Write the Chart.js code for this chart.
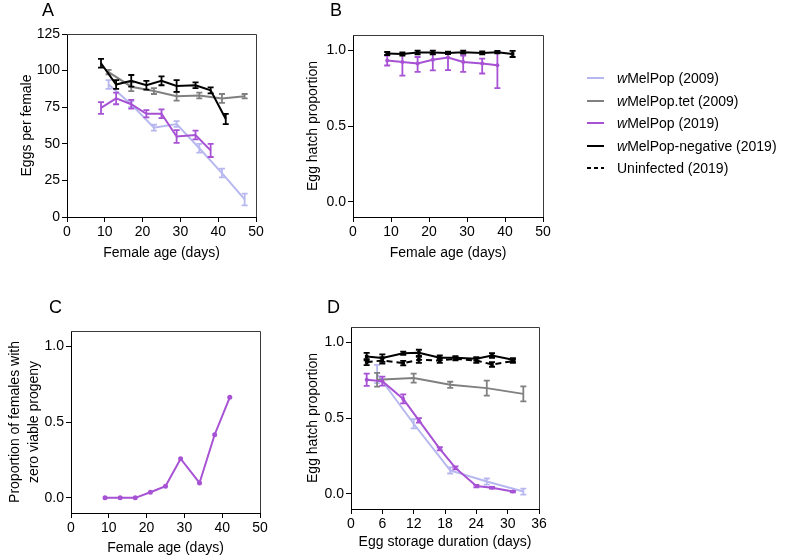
<!DOCTYPE html>
<html><head><meta charset="utf-8">
<script src="https://cdn.jsdelivr.net/npm/chart.js@4.4.1/dist/chart.umd.min.js"></script>
<style>
html,body{margin:0;padding:0;background:#fff;}
#wrap{position:relative;width:786px;height:558px;overflow:hidden;font-family:"Liberation Sans",Arial,sans-serif;color:#000;}
canvas{position:absolute;left:0;top:0;}
.lab{position:absolute;font-size:18px;line-height:18px;}
.legtxt{position:absolute;left:617px;font-size:14px;line-height:16px;white-space:nowrap;}
.legln{position:absolute;left:587px;width:17px;height:2px;}
</style></head>
<body>
<div id="wrap">
<canvas id="cA" width="786" height="558"></canvas>
<canvas id="cB" width="786" height="558"></canvas>
<canvas id="cC" width="786" height="558"></canvas>
<canvas id="cD" width="786" height="558"></canvas>
<div class="lab" style="left:42px;top:1px">A</div>
<div class="lab" style="left:330px;top:1px">B</div>
<div class="lab" style="left:49px;top:298px">C</div>
<div class="lab" style="left:327px;top:298px">D</div>
<div id="legend"></div>
</div>
<script>
// ---------- data ----------
// Panel A: eggs per female vs female age
const ageA_2019 = [9, 13, 17, 21, 25, 29, 34, 38, 42];
const eggsA_neg = [105, 90.5, 93, 90, 93, 89.5, 90, 86.5, 67];
const errA_neg = [3, 3, 4, 3, 3, 4, 2, 2, 3.5];
const ageA_wmp19 = [9, 13, 17, 21, 25, 29, 34, 38];
const eggsA_wmp19 = [74.5, 81, 77, 70.5, 70.5, 55, 56, 45.5];
const errA_wmp19 = [4, 4, 3, 2.5, 3, 4.3, 3, 4.5];
const ageA_2009 = [11, 17, 23, 29, 35, 41, 47];
const eggsA_tet = [99, 89, 86, 82.5, 83, 81, 82.5];
const errA_tet = [1.5, 3, 2, 3, 2, 3, 1.5];
const eggsA_wmp09 = [90.5, 77, 61, 63.5, 47, 30, 12];
const errA_wmp09 = [3, 2, 2, 2, 3, 3, 4];

// Panel B: egg hatch proportion vs female age
const ageB_neg = [9, 13, 17, 21, 25, 29, 34, 38, 42];
const hatchB_neg = [0.978, 0.975, 0.985, 0.985, 0.982, 0.987, 0.982, 0.987, 0.975];
const errB_neg = [0.01, 0.01, 0.012, 0.012, 0.008, 0.01, 0.01, 0.008, 0.02];
const ageB_wmp19 = [9, 13, 17, 21, 25, 29, 34, 38];
const hatchB_wmp19 = [0.932, 0.922, 0.912, 0.937, 0.952, 0.922, 0.912, 0.90];
const errLoB_wmp19 = [0.033, 0.09, 0.055, 0.07, 0.083, 0.065, 0.066, 0.15];
const errHiB_wmp19 = [0.033, 0.05, 0.043, 0.04, 0.026, 0.043, 0.032, 0.09];

// Panel C: proportion of females with zero viable progeny
const ageC = [9, 13, 17, 21, 25, 29, 34, 38, 42];
const propC = [0, 0, 0, 0.037, 0.077, 0.258, 0.098, 0.416, 0.663];

// Panel D: egg hatch proportion vs egg storage duration
const dayD_2019 = [3, 6, 10, 13, 17, 20, 24, 27, 31];
const hatchD_neg = [0.905, 0.895, 0.927, 0.93, 0.897, 0.897, 0.89, 0.912, 0.884];
const errD_neg = [0.025, 0.025, 0.01, 0.02, 0.015, 0.01, 0.012, 0.015, 0.01];
const hatchD_uninf = [0.868, 0.879, 0.862, 0.884, 0.879, 0.89, 0.879, 0.853, 0.875];
const errD_uninf = [0.02, 0.02, 0.015, 0.02, 0.015, 0.01, 0.015, 0.015, 0.012];
const hatchD_wmp19 = [0.752, 0.743, 0.626, 0.484, 0.297, 0.171, 0.051, 0.04, 0.015];
const errD_wmp19 = [0.04, 0.03, 0.03, 0.015, 0.01, 0.01, 0.008, 0.005, 0.005];
const dayD_2009 = [5, 12, 19, 26, 33];
const hatchD_tet = [0.752, 0.763, 0.719, 0.697, 0.659];
const errD_tet = [0.045, 0.03, 0.02, 0.05, 0.05];
const hatchD_wmp09 = [0.79, 0.462, 0.154, 0.081, 0.015];
const errD_wmp09 = [0.06, 0.03, 0.02, 0.02, 0.02];

const legendLabels = ['<i>w</i>MelPop (2009)', '<i>w</i>MelPop.tet (2009)', '<i>w</i>MelPop (2019)', '<i>w</i>MelPop-negative (2019)', 'Uninfected (2019)'];

// ---------- styles ----------
const C_WMP09 = '#b8b8f0', C_TET = '#808080', C_WMP19 = '#a752d4', C_NEG = '#000000';
const legendColors = [C_WMP09, C_TET, C_WMP19, C_NEG, 'dash'];

Chart.defaults.font.family = "'Liberation Sans', Arial, sans-serif";
Chart.defaults.font.size = 14;
Chart.defaults.color = '#000';
Chart.defaults.animation = false;

const pts = (xs, ys) => xs.map((x, i) => ({ x: x, y: ys[i] }));

const errorBars = {
  id: 'errorBars',
  afterDatasetDraw(chart, args) {
    const ds = chart.data.datasets[args.index];
    if (!ds.errLo) return;
    const ys = chart.scales.y, ctx = chart.ctx;
    ctx.save();
    ctx.strokeStyle = ds.borderColor;
    ctx.lineWidth = 1.8;
    ctx.setLineDash([]);
    args.meta.data.forEach((p, i) => {
      const lo = ds.errLo[i], hi = ds.errHi[i];
      if (!lo && !hi) return;
      const v = ds.data[i].y;
      const y1 = ys.getPixelForValue(v + hi), y2 = ys.getPixelForValue(v - lo);
      const cw = 3;
      ctx.beginPath();
      ctx.moveTo(p.x, y1); ctx.lineTo(p.x, y2);
      ctx.moveTo(p.x - cw, y1); ctx.lineTo(p.x + cw, y1);
      ctx.moveTo(p.x - cw, y2); ctx.lineTo(p.x + cw, y2);
      ctx.stroke();
    });
    ctx.restore();
  }
};

const frame = {
  id: 'frame',
  afterDraw(chart) {
    const a = chart.chartArea, ctx = chart.ctx;
    ctx.save();
    ctx.strokeStyle = '#3a3a3a';
    ctx.lineWidth = 1;
    ctx.beginPath();
    ctx.moveTo(Math.round(a.left), Math.round(a.top) + 0.5);
    ctx.lineTo(Math.round(a.right) + 0.5, Math.round(a.top) + 0.5);
    ctx.lineTo(Math.round(a.right) + 0.5, Math.round(a.bottom));
    ctx.stroke();
    ctx.restore();
  }
};

function ds(xs, ys, color, o) {
  o = o || {};
  const d = {
    data: pts(xs, ys), borderColor: color, backgroundColor: color,
    borderWidth: 2, pointRadius: o.r || 0, pointStyle: o.style || 'circle',
    pointBorderWidth: 0, tension: 0, order: o.order || 0,
    borderDash: o.dash || []
  };
  if (o.lo) { d.errLo = o.lo; d.errHi = o.hi || o.lo; }
  return d;
}

function panel(id, area, xCfg, yCfg, datasets, xTitle, xTitleCenter, yTitle, yTitleCenter, yLineH) {
  const YW = 66, XH = 45;
  const lh = yLineH || 1.2;
  const yPad = yTitleCenter - (area.L - YW) - 14 * lh / 2;
  const xPad = (area.B + XH) - xTitleCenter - 14 * 1.2 / 2;
  const tickGrid = { display: true, drawOnChartArea: false, drawTicks: true, tickLength: 5, color: '#000', lineWidth: 1 };
  new Chart(document.getElementById(id), {
    type: 'line',
    data: { datasets: datasets },
    options: {
      responsive: false, animation: false,
      layout: { padding: { left: area.L - YW, top: area.T, right: 786 - area.R, bottom: 558 - area.B - XH } },
      plugins: { legend: { display: false }, tooltip: { enabled: false } },
      scales: {
        x: Object.assign({
          type: 'linear', position: 'bottom',
          grid: tickGrid, border: { display: true, color: '#000', width: 1 },
          ticks: { padding: 2, maxRotation: 0, font: { size: 14 } },
          title: { display: true, text: xTitle, font: { size: 14 }, padding: { top: 0, bottom: xPad } },
          afterFit: s => { s.height = XH; }
        }, xCfg),
        y: Object.assign({
          type: 'linear', position: 'left',
          grid: tickGrid, border: { display: true, color: '#000', width: 1 },
          title: { display: true, text: yTitle, font: { size: 14, lineHeight: lh }, padding: { top: yPad, bottom: 0 } },
          afterFit: s => { s.width = YW; }
        }, yCfg)
      }
    },
    plugins: [errorBars, frame]
  });
}

const propY = {
  min: -0.1, max: 1.1,
  afterBuildTicks: s => { s.ticks = [0, 0.5, 1].map(v => ({ value: v })); },
  ticks: { padding: 2, font: { size: 14 }, callback: v => Number(v).toFixed(1) }
};
const ageX = { min: 0, max: 50, ticks: { stepSize: 10, padding: 2, maxRotation: 0, font: { size: 14 } } };

// Panel A
panel('cA', { L: 67, T: 34, R: 256, B: 217 }, ageX,
  { min: 0, max: 125, ticks: { stepSize: 25, padding: 2, font: { size: 14 } } },
  [
    ds(ageA_2019, eggsA_neg, C_NEG, { lo: errA_neg, order: 1 }),
    ds(ageA_wmp19, eggsA_wmp19, C_WMP19, { lo: errA_wmp19, order: 2 }),
    ds(ageA_2009, eggsA_tet, C_TET, { lo: errA_tet, order: 3 }),
    ds(ageA_2009, eggsA_wmp09, C_WMP09, { lo: errA_wmp09, order: 4 })
  ], 'Female age (days)', 253, 'Eggs per female', 27);

// Panel B
panel('cB', { L: 353, T: 35, R: 543, B: 217 }, ageX, propY,
  [
    ds(ageB_neg, hatchB_neg, C_NEG, { lo: errB_neg, r: 2.5, style: 'rect', order: 1 }),
    ds(ageB_wmp19, hatchB_wmp19, C_WMP19, { lo: errLoB_wmp19, hi: errHiB_wmp19, r: 2, order: 2 })
  ], 'Female age (days)', 253, 'Egg hatch proportion', 313);

// Panel C
panel('cC', { L: 71, T: 331, R: 260, B: 513 }, ageX, propY,
  [ ds(ageC, propC, C_WMP19, { r: 2.5 }) ],
  'Female age (days)', 548, ['Proportion of females with', 'zero viable progeny'], 15, 1.4);

// Panel D
panel('cD', { L: 351, T: 327, R: 539, B: 509 },
  { min: 0, max: 36, ticks: { stepSize: 6, padding: 2, maxRotation: 0, font: { size: 14 } } }, propY,
  [
    ds(dayD_2019, hatchD_neg, C_NEG, { lo: errD_neg, r: 2.5, style: 'rect', order: 1 }),
    ds(dayD_2019, hatchD_uninf, C_NEG, { lo: errD_uninf, r: 2.5, style: 'rect', dash: [6, 4], order: 2 }),
    ds(dayD_2019, hatchD_wmp19, C_WMP19, { lo: errD_wmp19, r: 2, order: 3 }),
    ds(dayD_2009, hatchD_tet, C_TET, { lo: errD_tet, order: 4 }),
    ds(dayD_2009, hatchD_wmp09, C_WMP09, { lo: errD_wmp09, order: 5 })
  ], 'Egg storage duration (days)', 542, 'Egg hatch proportion', 313);

// Legend
const legendY = [78, 100.5, 123, 145.5, 168];
const leg = document.getElementById('legend');
legendLabels.forEach((t, i) => {
  const ln = document.createElement('div');
  ln.className = 'legln';
  ln.style.top = (legendY[i] - 1) + 'px';
  if (legendColors[i] === 'dash') ln.style.background = 'repeating-linear-gradient(90deg,#000 0 4px,transparent 4px 7px)';
  else ln.style.background = legendColors[i];
  leg.appendChild(ln);
  const tx = document.createElement('div');
  tx.className = 'legtxt';
  tx.style.top = (legendY[i] - 8) + 'px';
  tx.innerHTML = t;
  leg.appendChild(tx);
});
</script>
</body></html>
